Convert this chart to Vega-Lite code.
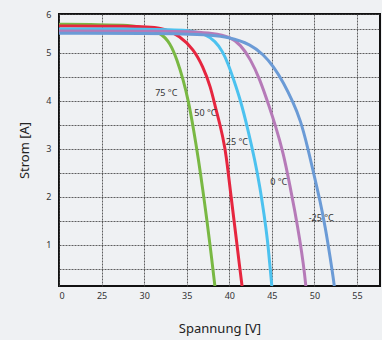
{
  "$schema": "https://vega.github.io/schema/vega-lite/v6.json",
  "width": 321,
  "height": 272,
  "autosize": {"type": "none"},
  "padding": {"left": 59, "top": 14, "right": 2, "bottom": 54},
  "background": "#eff1f3",
  "config": {
    "view": {"stroke": "#111111", "strokeWidth": 2},
    "font": "Noto Sans",
    "axis": {"labelFont": "Noto Sans", "titleFont": "Noto Sans", "labelColor": "#333333", "titleColor": "#222222", "labelFontSize": 9, "titleFontSize": 13, "titleFontWeight": "normal", "domain": false, "gridColor": "#444444", "gridDash": [2, 1], "gridWidth": 1, "gridOpacity": 0.85, "labelOverlap": false}
  },
  "datasets": {
    "curves": [
      {"s": "75", "V": 20, "I": 5.6}, {"s": "75", "V": 24.8, "I": 5.59}, {"s": "75", "V": 28.35, "I": 5.58}, {"s": "75", "V": 30.1, "I": 5.52}, {"s": "75", "V": 31.9, "I": 5.43}, {"s": "75", "V": 33.06, "I": 5.21}, {"s": "75", "V": 33.88, "I": 4.85}, {"s": "75", "V": 34.59, "I": 4.44}, {"s": "75", "V": 35.18, "I": 4.02}, {"s": "75", "V": 35.82, "I": 3.4}, {"s": "75", "V": 36.39, "I": 2.77}, {"s": "75", "V": 36.89, "I": 2.15}, {"s": "75", "V": 37.37, "I": 1.52}, {"s": "75", "V": 37.81, "I": 0.9}, {"s": "75", "V": 38.31, "I": 0.146}, {"s": "75", "V": 38.4, "I": 0.0},
      {"s": "50", "V": 20, "I": 5.56}, {"s": "50", "V": 28.35, "I": 5.56}, {"s": "50", "V": 32.2, "I": 5.54}, {"s": "50", "V": 34.2, "I": 5.35}, {"s": "50", "V": 35.8, "I": 5.08}, {"s": "50", "V": 36.9, "I": 4.72}, {"s": "50", "V": 37.8, "I": 4.3}, {"s": "50", "V": 38.35, "I": 3.88}, {"s": "50", "V": 38.9, "I": 3.52}, {"s": "50", "V": 39.5, "I": 3.04}, {"s": "50", "V": 39.88, "I": 2.5}, {"s": "50", "V": 40.12, "I": 2.14}, {"s": "50", "V": 40.45, "I": 1.66}, {"s": "50", "V": 40.85, "I": 1.09}, {"s": "50", "V": 41.17, "I": 0.61}, {"s": "50", "V": 41.5, "I": 0.146}, {"s": "50", "V": 41.6, "I": 0.0},
      {"s": "25", "V": 20, "I": 5.5}, {"s": "25", "V": 30.7, "I": 5.5}, {"s": "25", "V": 35.4, "I": 5.48}, {"s": "25", "V": 37.2, "I": 5.39}, {"s": "25", "V": 38.35, "I": 5.25}, {"s": "25", "V": 39.2, "I": 5.04}, {"s": "25", "V": 39.9, "I": 4.76}, {"s": "25", "V": 40.5, "I": 4.45}, {"s": "25", "V": 41.3, "I": 4.03}, {"s": "25", "V": 42.2, "I": 3.4}, {"s": "25", "V": 43.0, "I": 2.77}, {"s": "25", "V": 43.6, "I": 2.21}, {"s": "25", "V": 44.1, "I": 1.62}, {"s": "25", "V": 44.5, "I": 1.09}, {"s": "25", "V": 44.75, "I": 0.61}, {"s": "25", "V": 45.0, "I": 0.146}, {"s": "25", "V": 45.05, "I": 0.0},
      {"s": "0", "V": 20, "I": 5.46}, {"s": "0", "V": 34.2, "I": 5.46}, {"s": "0", "V": 38.35, "I": 5.41}, {"s": "0", "V": 40.1, "I": 5.33}, {"s": "0", "V": 41.3, "I": 5.18}, {"s": "0", "V": 42.5, "I": 4.87}, {"s": "0", "V": 43.6, "I": 4.45}, {"s": "0", "V": 44.7, "I": 3.88}, {"s": "0", "V": 45.4, "I": 3.5}, {"s": "0", "V": 46.35, "I": 2.92}, {"s": "0", "V": 47.15, "I": 2.21}, {"s": "0", "V": 47.75, "I": 1.66}, {"s": "0", "V": 48.3, "I": 1.09}, {"s": "0", "V": 48.7, "I": 0.61}, {"s": "0", "V": 49.0, "I": 0.146}, {"s": "0", "V": 49.05, "I": 0.0},
      {"s": "-25", "V": 20, "I": 5.41}, {"s": "-25", "V": 36.6, "I": 5.41}, {"s": "-25", "V": 40.1, "I": 5.33}, {"s": "-25", "V": 42.5, "I": 5.18}, {"s": "-25", "V": 44.0, "I": 4.97}, {"s": "-25", "V": 45.2, "I": 4.72}, {"s": "-25", "V": 46.35, "I": 4.39}, {"s": "-25", "V": 47.5, "I": 3.97}, {"s": "-25", "V": 48.35, "I": 3.61}, {"s": "-25", "V": 49.2, "I": 3.04}, {"s": "-25", "V": 49.9, "I": 2.5}, {"s": "-25", "V": 50.65, "I": 1.93}, {"s": "-25", "V": 51.3, "I": 1.35}, {"s": "-25", "V": 51.85, "I": 0.74}, {"s": "-25", "V": 52.35, "I": 0.146}, {"s": "-25", "V": 52.4, "I": 0.0}
    ],
    "labels": [
      {"t": "75 °C", "V": 32.6, "I": 4.16},
      {"t": "50 °C", "V": 37.2, "I": 3.74},
      {"t": "25 °C", "V": 40.9, "I": 3.15},
      {"t": "0 °C", "V": 45.8, "I": 2.31},
      {"t": "-25 °C", "V": 50.8, "I": 1.56}
    ]
  },
  "layer": [
    {
      "data": {"name": "curves"},
      "mark": {"type": "line", "strokeWidth": 3, "interpolate": "basis", "clip": true, "strokeCap": "butt"},
      "encoding": {
        "x": {"field": "V", "type": "quantitative", "scale": {"domain": [20, 57.7], "nice": false, "zero": false},
          "axis": {"title": "Spannung [V]", "values": [20, 25, 30, 35, 40, 45, 50, 55], "tickCount": 20, "labelExpr": "datum.value == 20 ? '0' : datum.label", "tickSize": 0, "labelPadding": 5, "titlePadding": 22, "grid": true}},
        "y": {"field": "I", "type": "quantitative", "scale": {"domain": [0.14583, 5.8125], "nice": false, "zero": false},
          "axis": {"title": "Strom [A]", "values": [0.5, 1, 1.5, 2, 2.5, 3, 3.5, 4, 4.5, 5, 5.5, 5.8125], "tickCount": 20, "labelExpr": "datum.value > 5.8 ? '6' : (floor(datum.value) == datum.value ? toString(datum.value) : '')", "tickSize": 0, "labelPadding": 8, "titlePadding": 14, "grid": true}},
        "color": {"field": "s", "type": "nominal", "scale": {"domain": ["-25", "0", "25", "50", "75"], "range": ["#6b9bd6", "#b67ab8", "#4cc2ef", "#e6263f", "#79b843"]}, "legend": null},
        "order": {"field": "s", "type": "nominal"}
      }
    },
    {
      "data": {"name": "labels"},
      "mark": {"type": "text", "fontSize": 9, "color": "#333333", "font": "Noto Sans", "align": "center", "baseline": "middle"},
      "encoding": {
        "x": {"field": "V", "type": "quantitative"},
        "y": {"field": "I", "type": "quantitative"},
        "text": {"field": "t"}
      }
    }
  ]
}
